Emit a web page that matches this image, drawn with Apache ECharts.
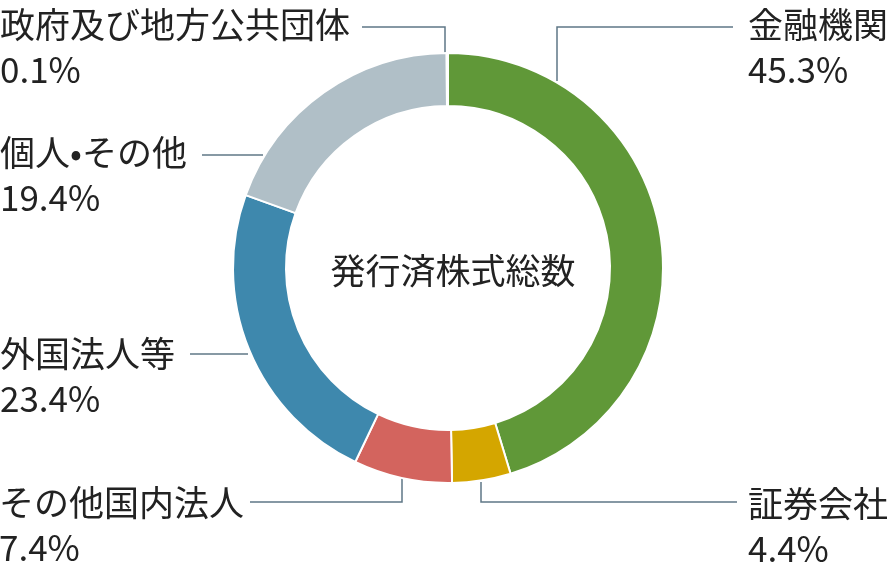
<!DOCTYPE html>
<html><head><meta charset="utf-8">
<script src="https://cdn.jsdelivr.net/npm/echarts@6/dist/echarts.min.js"></script>
<style>html,body{margin:0;padding:0;background:#fff}#c{width:893px;height:568px}</style>
</head><body><div id="c"></div>
<script>
const categories = ['金融機関', '証券会社', 'その他国内法人', '外国法人等', '個人•その他', '政府及び地方公共団体'];
const shares = [45.3, 4.4, 7.4, 23.4, 19.4, 0.1];
const centerTitle = '発行済株式総数';

const colors = ['#609838', '#d4a600', '#d3645e', '#3e88ad', '#b0bfc7', '#dfe5e9'];
// label block anchor (left x, middle y) and leader polyline for each category
const labelPlaces = [
  {x: 748, y: 47, pts: [[557, 81], [557, 27], [733, 27]]},
  {x: 748, y: 526, pts: [[481, 482], [481, 502], [737, 502]]},
  {x: -1, y: 525, pts: [[402, 478], [402, 502], [250, 502]]},
  {x: 0, y: 376, pts: [[248, 354], [190, 354]]},
  {x: 0, y: 175, pts: [[263, 155], [202, 155]]},
  {x: 0, y: 47, pts: [[445, 53], [445, 27], [362, 27]]}
];

const chart = echarts.init(document.getElementById('c'), null, {renderer: 'canvas'});
const font = '"Noto Sans CJK JP", "Noto Sans", sans-serif';
chart.setOption({
  animation: false,
  color: colors,
  title: {
    text: centerTitle, left: 448, top: 266, textAlign: 'center', textVerticalAlign: 'middle',
    textStyle: {fontFamily: font, fontSize: 35, fontWeight: 'normal', color: '#222'}
  },
  series: [{
    type: 'pie',
    center: [448, 268],
    radius: [162, 215],
    startAngle: 90,
    clockwise: true,
    avoidLabelOverlap: false,
    emphasis: {disabled: true},
    itemStyle: {borderColor: '#fff', borderWidth: 2},
    data: categories.map((n, i) => ({name: n, value: shares[i]})),
    label: {
      show: true,
      formatter: p => p.name + '\n' + shares[p.dataIndex].toFixed(1) + '%',
      fontFamily: font, fontSize: 35, lineHeight: 45, color: '#222'
    },
    labelLine: {show: true, lineStyle: {color: '#5f7786', width: 1.5}},
    labelLayout: p => {
      const L = labelPlaces[p.dataIndex];
      return {x: L.x, y: L.y, align: 'left', verticalAlign: 'middle', labelLinePoints: L.pts};
    }
  }]
});
</script></body></html>
